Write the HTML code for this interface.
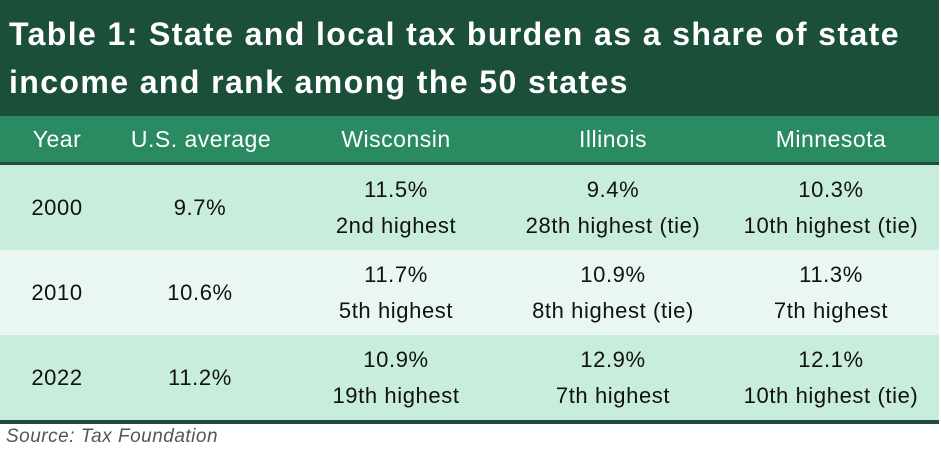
<!DOCTYPE html>
<html><head><meta charset="utf-8"><style>
body{margin:0;width:941px;height:466px;background:#fff;font-family:"Liberation Sans",sans-serif;position:relative;overflow:hidden}
.title{position:absolute;left:0;top:0;width:939px;height:116px;background:#1c4f39;color:#fff;font-weight:bold;font-size:32px;letter-spacing:1.4px;line-height:48px;padding:10px 0 0 9px;box-sizing:border-box;white-space:nowrap}
.hdr{position:absolute;left:0;top:116px;width:939px;height:46px;background:#2a8a62;border-bottom:3px solid #1c4f39}
.row{position:absolute;left:0;width:939px;height:85px}
.c{position:absolute;top:0;height:100%;display:flex;flex-direction:column;justify-content:center;align-items:center;font-size:22px;letter-spacing:0.6px;line-height:36px;color:#111;transform:translateX(-50%);white-space:nowrap}
.hdr .c{color:#fff;font-size:23px;letter-spacing:0.5px}
.src{position:absolute;left:6px;top:426px;font-style:italic;color:#555;font-size:19px;letter-spacing:0.5px}
</style></head><body>
<div class="title">Table 1: State and local tax burden as a share of state<br>income and rank among the 50 states</div>
<div class="hdr">
<div class="c" style="left:57px">Year</div><div class="c" style="left:201px">U.S. average</div><div class="c" style="left:396px">Wisconsin</div><div class="c" style="left:613px">Illinois</div><div class="c" style="left:831px">Minnesota</div>
</div>
<div class="row" style="top:165px;background:#c8eddc">
<div class="c" style="left:57px">2000</div><div class="c" style="left:200px">9.7%</div><div class="c" style="left:396px"><span>11.5%</span><span>2nd highest</span></div><div class="c" style="left:613px"><span>9.4%</span><span>28th highest (tie)</span></div><div class="c" style="left:831px"><span>10.3%</span><span>10th highest (tie)</span></div>
</div>
<div class="row" style="top:250px;background:#eaf7f0">
<div class="c" style="left:57px">2010</div><div class="c" style="left:200px">10.6%</div><div class="c" style="left:396px"><span>11.7%</span><span>5th highest</span></div><div class="c" style="left:613px"><span>10.9%</span><span>8th highest (tie)</span></div><div class="c" style="left:831px"><span>11.3%</span><span>7th highest</span></div>
</div>
<div class="row" style="top:335px;background:#c8eddc;border-bottom:4px solid #1c4f39">
<div class="c" style="left:57px">2022</div><div class="c" style="left:200px">11.2%</div><div class="c" style="left:396px"><span>10.9%</span><span>19th highest</span></div><div class="c" style="left:613px"><span>12.9%</span><span>7th highest</span></div><div class="c" style="left:831px"><span>12.1%</span><span>10th highest (tie)</span></div>
</div>
<div class="src">Source: Tax Foundation</div>
</body></html>
